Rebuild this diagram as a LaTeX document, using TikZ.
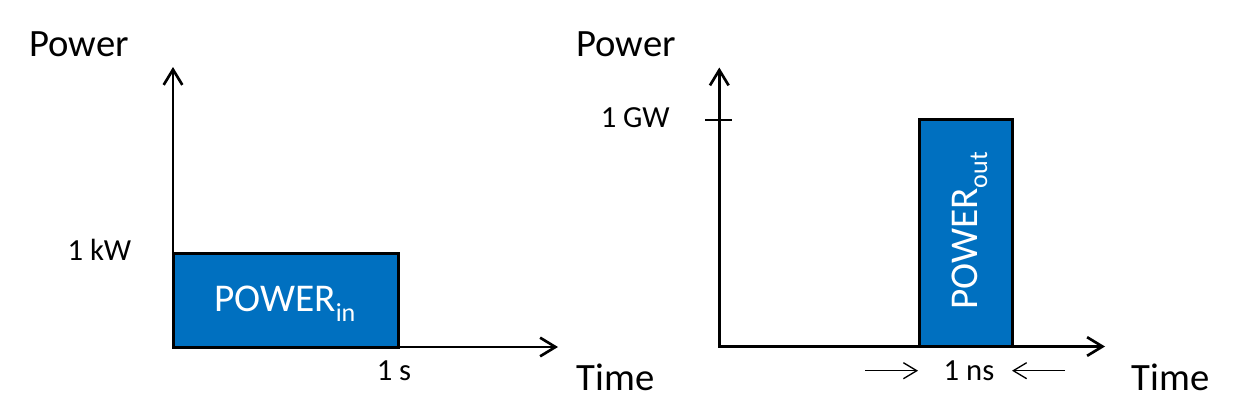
\documentclass[tikz,border=0pt]{standalone}
\usepackage{fontspec}
\setmainfont{Carlito}
\usetikzlibrary{arrows.meta}
\definecolor{pblue}{HTML}{0070C0}
\tikzset{
  axis/.style={line width=2pt, {Straight Barb[length=11.5pt,width=14pt,line width=2pt]}-{Straight Barb[length=11.5pt,width=14pt,line width=2pt]}},
  bar/.style={draw=black, fill=pblue, line width=2.25pt, inner sep=0pt, outer sep=0pt},
  lbl/.style={inner sep=0pt, font=\fontsize{29}{31}\selectfont},
  num/.style={inner sep=0pt, font=\fontsize{23}{25}\selectfont},
  bartext/.style={inner sep=0pt, text=white, font=\fontsize{29.5}{31}\selectfont},
  thinarr/.style={line width=1pt, -{Straight Barb[length=10pt,width=12pt,line width=1pt]}},
  tick/.style={line width=1.5pt}
}
\newcommand{\subtxt}[1]{\raisebox{-7.5pt}{\fontsize{19.5}{20}\selectfont #1}}
\begin{document}
\begin{tikzpicture}[x=0.75pt,y=-0.75pt]
\useasboundingbox (0,0) rectangle (1242,414);
% left panel
\node[bar, minimum width=225.5*0.75pt, minimum height=94*0.75pt] (pin) at (285.75,300) {};
\coordinate (o1) at (173,347);
\coordinate (y1) at (173,67);
\coordinate (x1) at (558,347);
\draw[axis] (y1) -- (o1) -- (x1);
\node[bartext, anchor=base west] (tin) at (214,311.7) {POWER\subtxt{in}};
\node[lbl, anchor=base west] (pw1) at (29,56.7) {Power};
\node[lbl, anchor=base west] (tm1) at (576.5,390) {Time};
\node[num, anchor=base east] (kw) at (131.5,260) {1 kW};
\node[num, anchor=base] (s1) at (394,380) {1 s};
% right panel
\node[bar, minimum width=92.3*0.75pt, minimum height=226.8*0.75pt] (pout) at (965.85,233.1) {};
\coordinate (o2) at (719.3,346.5);
\coordinate (y2) at (719.3,67.5);
\coordinate (x2) at (1105,346.5);
\draw[axis] (y2) -- (o2) -- (x2);
\coordinate (t1) at (705,119.7);
\coordinate (t2) at (732,119.7);
\draw[tick] (t1) -- (t2);
\node[bartext, anchor=base west, rotate=90] (tout) at (977,310) {POWER\subtxt{out}};
\node[lbl, anchor=base west] (pw2) at (576,56.7) {Power};
\node[lbl, anchor=base west] (tm2) at (1131.5,390) {Time};
\node[num, anchor=base east] (gw) at (670,127) {1 GW};
\node[num, anchor=base] (ns) at (969,380.5) {1 ns};
\coordinate (a1s) at (865,370.7);
\coordinate (a1e) at (918,370.7);
\coordinate (a2s) at (1065,370.7);
\coordinate (a2e) at (1012,370.7);
\draw[thinarr] (a1s) -- (a1e);
\draw[thinarr] (a2s) -- (a2e);
\end{tikzpicture}
\end{document}
